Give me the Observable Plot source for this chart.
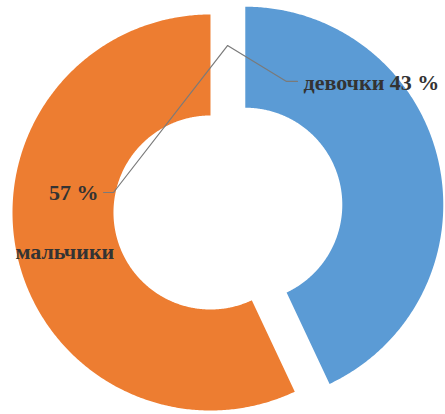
<!DOCTYPE html>
<html><head><meta charset="utf-8">
<script src="https://cdn.jsdelivr.net/npm/d3@7"></script>
<script src="https://cdn.jsdelivr.net/npm/@observablehq/plot@0.6"></script>
<style>body{margin:0;background:#fff}</style>
</head><body><div id="chart"></div>
<script>
const categories = ["девочки", "мальчики"];
const values = [43, 57];
const colors = ["#5B9BD5", "#ED7D31"];
const explode = [0.18, 0];
const innerRatio = 0.49;

// layout of labels and leader lines (in radius units from the donut centre)
const labelLayout = [
  {x: 0.47, y: 0.655, anchor: "start"},
  {x: -0.566, y: 0.1, anchor: "end"},
  {x: -0.985, y: -0.2, anchor: "start"}
];
const leaderLayout = [
  {id: 0, pts: [[0.439, 0.662], [0.384, 0.662], [0.086, 0.843]]},
  {id: 1, pts: [[-0.54, 0.101], [-0.49, 0.101], [0.086, 0.843]]}
];

const total = d3.sum(values);
let acc = 0;
const slices = categories.map((c, i) => {
  const a0 = acc / total * 2 * Math.PI; acc += values[i];
  const a1 = acc / total * 2 * Math.PI;
  return {c, v: values[i], a0, a1};
});

const pts = [];
slices.forEach((s, i) => {
  const mid = (s.a0 + s.a1) / 2;
  const ox = explode[i] * Math.sin(mid), oy = explode[i] * Math.cos(mid);
  const n = Math.ceil((s.a1 - s.a0) / (Math.PI / 360));
  for (let k = 0; k <= n; k++) { const a = s.a0 + (s.a1 - s.a0) * k / n; pts.push({c: s.c, x: ox + Math.sin(a), y: oy + Math.cos(a)}); }
  for (let k = n; k >= 0; k--) { const a = s.a0 + (s.a1 - s.a0) * k / n; pts.push({c: s.c, x: ox + innerRatio * Math.sin(a), y: oy + innerRatio * Math.cos(a)}); }
});

const labels = [
  {t: `${categories[0]} ${values[0]} %`, ...labelLayout[0]},
  {t: `${values[1]} %`, ...labelLayout[1]},
  {t: `${categories[1]}`, ...labelLayout[2]}
];
const leaders = leaderLayout.flatMap(l => l.pts.map(p => ({id: l.id, x: p[0], y: p[1]})));

const textStyle = {x: "x", y: "y", text: "t", fill: "#333", fontFamily: "Liberation Serif", fontSize: 22, fontWeight: "bold"};

const chart = Plot.plot({
  width: 445, height: 414, margin: 0,
  style: {background: "#fff"},
  x: {domain: [-1.0606, 1.1869], axis: null},
  y: {domain: [-1.0202, 1.0707], axis: null},
  color: {domain: categories, range: colors},
  marks: [
    Plot.line(pts, {x: "x", y: "y", z: "c", fill: "c", stroke: "none", curve: "linear"}),
    Plot.line(leaders, {x: "x", y: "y", z: "id", stroke: "#7a7a7a", strokeWidth: 1.2, curve: "linear"}),
    Plot.text(labels.filter(d => d.anchor === "start"), {...textStyle, textAnchor: "start"}),
    Plot.text(labels.filter(d => d.anchor === "end"), {...textStyle, textAnchor: "end"})
  ]
});
document.getElementById("chart").append(chart);
</script>
</body></html>
